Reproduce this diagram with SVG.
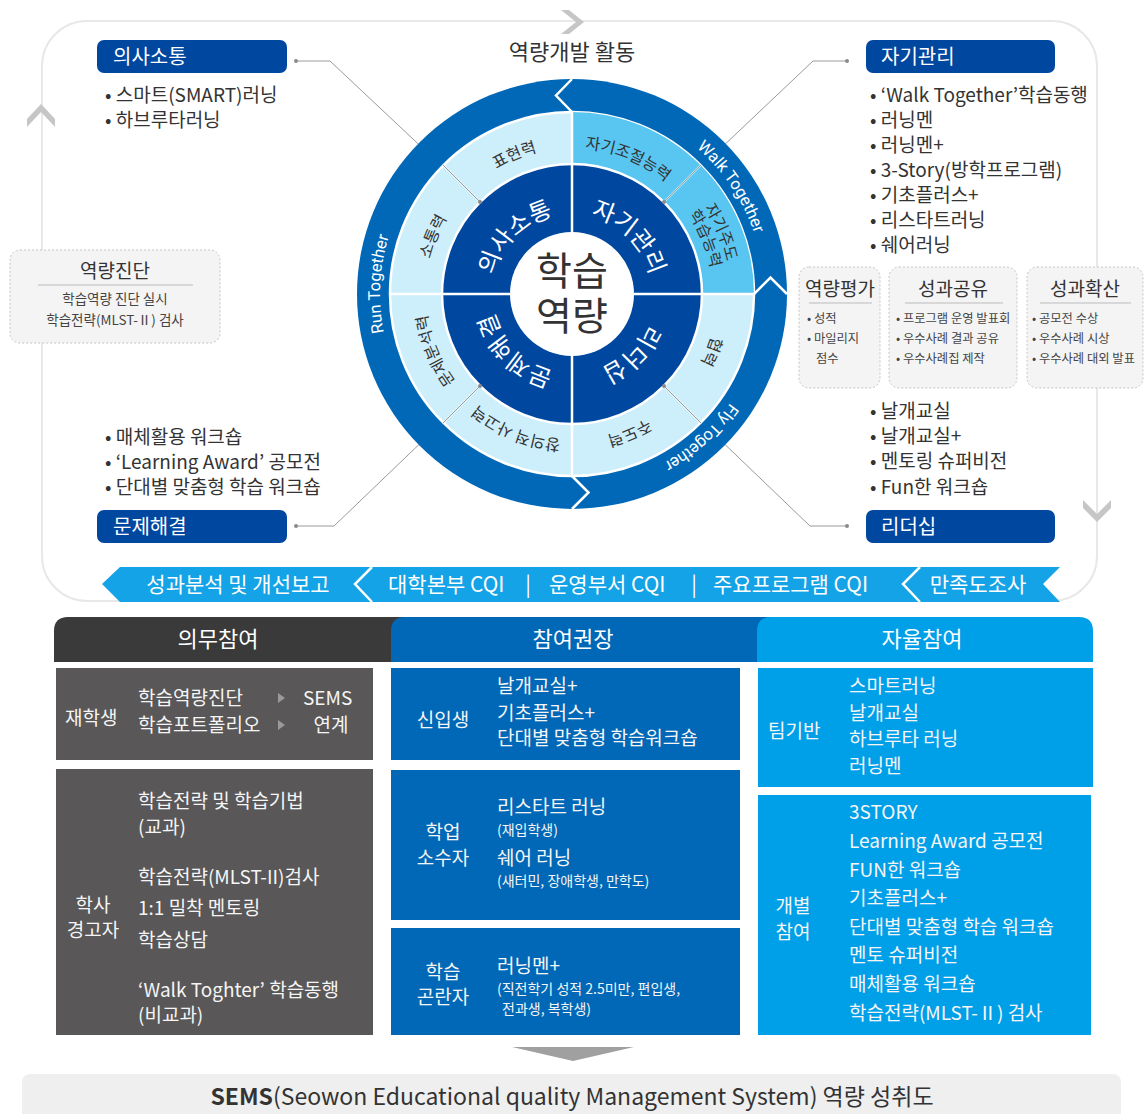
<svg xmlns="http://www.w3.org/2000/svg" width="1144" height="1114" viewBox="0 0 1144 1114">
<style>
text{font-family:"Noto Sans CJK KR","Noto Sans",sans-serif;}
.t{fill:#333;}
.w{fill:#fff;}
.b19{font-size:19px;}
.nb{fill:#0047a0;}
.dash{fill:#f4f4f4;stroke:#c4c4c4;stroke-width:1;stroke-dasharray:2 2;}
.chev{fill:#c6c6c6;}
.conn{fill:none;stroke:#9a9a9a;stroke-width:1;}
.dot{fill:#8a8a8a;}
.wl{fill:none;stroke:#fff;stroke-width:2.5;}
.wl2{fill:none;stroke:#fff;stroke-width:1.6;}
.ring{fill:#fff;font-size:16.5px;font-family:Roboto,"Noto Sans",sans-serif;}
.mid{fill:#333;font-size:16px;}
.inn{fill:#fff;font-size:24px;}
.sm{fill:#444;font-size:12.3px;}
.gray{fill:#595757;}
.blue{fill:#0068b7;}
.lblue{fill:#00a0e9;}
.cell{fill:#f5f5f5;font-size:19px;}
.small{fill:#f5f5f5;font-size:14px;}
</style>
<defs>
<path id="a192" d="M380,294 A192,192 0 0 1 764,294"/>
<path id="a146" d="M426,294 A146,146 0 0 1 718,294"/>
<path id="a158" d="M414,294 A158,158 0 0 1 730,294"/>
<path id="a141" d="M431,294 A141,141 0 0 1 713,294"/>
<path id="a80" d="M492,294 A80,80 0 0 1 652,294"/>
</defs>

<g id="frame">
<rect x="42" y="21" width="1055" height="580" rx="45" fill="#fff" stroke="#e8e8e8" stroke-width="2"/>
<polygon class="chev" points="561,10 569,10 584,22 569,34 561,34 576,22"/>
<polygon class="chev" points="27,119 41,104 55,119 55,127 41,112 27,127"/>
<polygon class="chev" points="1083,500 1097,514 1111,500 1111,508 1097,522 1083,508"/>
<text x="572" y="60" text-anchor="middle" class="t" font-size="22">역량개발 활동</text>
</g>

<g id="connectors">
<polyline class="conn" points="296,61 330,61 480,202"/>
<polyline class="conn" points="847,61 813,61 664,202"/>
<polyline class="conn" points="296,526 334,526 480,386"/>
<polyline class="conn" points="847,526 810,526 664,386"/>
<circle class="dot" cx="296" cy="61" r="2"/>
<circle class="dot" cx="847" cy="61" r="2"/>
<circle class="dot" cx="296" cy="526" r="2"/>
<circle class="dot" cx="847" cy="526" r="2"/>
</g>

<g id="wheel">
<circle cx="572" cy="294" r="215" fill="#0068b7"/>
<circle cx="572" cy="294" r="182" fill="#cdeefb" stroke="#fff" stroke-width="2.5"/>
<path d="M572,112 A182,182 0 0 1 754,294 L702,294 A130,130 0 0 0 572,164 Z" fill="#58c6f1"/>
<circle cx="572" cy="294" r="130" fill="#0047a0" stroke="#fff" stroke-width="2.5"/>
<circle cx="572" cy="294" r="62" fill="#fff"/>
<line class="wl" x1="572" y1="232" x2="572" y2="112"/>
<line class="wl" x1="572" y1="356" x2="572" y2="476"/>
<line class="wl" x1="510" y1="294" x2="390" y2="294"/>
<line class="wl" x1="634" y1="294" x2="754" y2="294"/>
<line class="wl2" x1="480" y1="202" x2="443" y2="165"/>
<line class="wl2" x1="664" y1="202" x2="701" y2="165"/>
<line class="wl2" x1="480" y1="386" x2="443" y2="423"/>
<line class="wl2" x1="664" y1="386" x2="701" y2="423"/>
<polyline class="wl" points="572,79 556,95.5 572,112"/>
<polyline class="wl" points="754,294 770.5,277.5 787,294"/>
<polyline class="wl" points="572,476 588.5,492.5 572,509"/>
<polyline class="conn" points="480,202 443,165"/>
<polyline class="conn" points="664,202 701,165"/>
<polyline class="conn" points="480,386 443,423"/>
<polyline class="conn" points="664,386 701,423"/>
<circle class="dot" cx="480" cy="202" r="2"/>
<circle class="dot" cx="664" cy="202" r="2"/>
<circle class="dot" cx="480" cy="386" r="2"/>
<circle class="dot" cx="664" cy="386" r="2"/>

<text class="ring" transform="rotate(56 572 294)"><textPath href="#a192" startOffset="50%" text-anchor="middle">Walk Together</textPath></text>
<text class="ring" transform="rotate(138 572 294)"><textPath href="#a192" startOffset="50%" text-anchor="middle">Fly Together</textPath></text>
<text class="ring" transform="rotate(273 572 294)"><textPath href="#a192" startOffset="50%" text-anchor="middle">Run Together</textPath></text>

<text class="mid" transform="rotate(-22.5 572 294)"><textPath href="#a146" startOffset="50%" text-anchor="middle">표현력</textPath></text>
<text class="mid" transform="rotate(-67.5 572 294)"><textPath href="#a146" startOffset="50%" text-anchor="middle">소통력</textPath></text>
<text class="mid" transform="rotate(22.5 572 294)"><textPath href="#a146" startOffset="50%" text-anchor="middle">자기조절능력</textPath></text>
<text class="mid" transform="rotate(67.5 572 294)"><textPath href="#a158" startOffset="50%" text-anchor="middle">자기주도</textPath></text>
<text class="mid" transform="rotate(67.5 572 294)"><textPath href="#a141" startOffset="50%" text-anchor="middle">학습능력</textPath></text>
<text class="mid" transform="rotate(112.5 572 294)"><textPath href="#a146" startOffset="50%" text-anchor="middle">협력</textPath></text>
<text class="mid" transform="rotate(157.5 572 294)"><textPath href="#a146" startOffset="50%" text-anchor="middle">주도력</textPath></text>
<text class="mid" transform="rotate(202.5 572 294)"><textPath href="#a146" startOffset="50%" text-anchor="middle">창의적 사고력</textPath></text>
<text class="mid" transform="rotate(247.5 572 294)"><textPath href="#a146" startOffset="50%" text-anchor="middle">문제분석력</textPath></text>

<text class="inn" transform="rotate(-45 572 294)"><textPath href="#a80" startOffset="50%" text-anchor="middle">의사소통</textPath></text>
<text class="inn" transform="rotate(45 572 294)"><textPath href="#a80" startOffset="50%" text-anchor="middle">자기관리</textPath></text>
<text class="inn" transform="rotate(135 572 294)"><textPath href="#a80" startOffset="50%" text-anchor="middle">리더십</textPath></text>
<text class="inn" transform="rotate(225 572 294)"><textPath href="#a80" startOffset="50%" text-anchor="middle">문제해결</textPath></text>

<text text-anchor="middle" font-size="39" fill="#333"><tspan x="572" y="285">학습</tspan><tspan x="572" y="330">역량</tspan></text>
</g>

<g id="node-communication">
<rect class="nb" x="97" y="40" width="190" height="33" rx="7"/>
<text x="113" y="64" class="w" font-size="20">의사소통</text>
<text class="t b19" x="105" y="102">• 스마트(SMART)러닝</text>
<text class="t b19" x="105" y="127">• 하브루타러닝</text>
</g>
<g id="node-selfmanagement">
<rect class="nb" x="866" y="40" width="189" height="33" rx="7"/>
<text x="881" y="64" class="w" font-size="20">자기관리</text>
<text class="t b19" x="870" y="102">• ‘Walk Together’학습동행</text>
<text class="t b19" x="870" y="127">• 러닝멘</text>
<text class="t b19" x="870" y="152">• 러닝멘+</text>
<text class="t b19" x="870" y="177">• 3-Story(방학프로그램)</text>
<text class="t b19" x="870" y="202">• 기초플러스+</text>
<text class="t b19" x="870" y="227">• 리스타트러닝</text>
<text class="t b19" x="870" y="252">• 쉐어러닝</text>
</g>
<g id="node-problemsolving">
<text class="t b19" x="105" y="444">• 매체활용 워크숍</text>
<text class="t b19" x="105" y="469">• ‘Learning Award’ 공모전</text>
<text class="t b19" x="105" y="494">• 단대별 맞춤형 학습 워크숍</text>
<rect class="nb" x="97" y="510" width="190" height="33" rx="7"/>
<text x="113" y="534" class="w" font-size="20">문제해결</text>
</g>
<g id="node-leadership">
<text class="t b19" x="870" y="418">• 날개교실</text>
<text class="t b19" x="870" y="443">• 날개교실+</text>
<text class="t b19" x="870" y="468">• 멘토링 슈퍼비전</text>
<text class="t b19" x="870" y="494">• Fun한 워크숍</text>
<rect class="nb" x="866" y="510" width="189" height="33" rx="7"/>
<text x="881" y="534" class="w" font-size="20">리더십</text>
</g>

<g id="node-diagnosis">
<rect class="dash" x="10" y="250" width="210" height="93" rx="10"/>
<text x="115" y="278" text-anchor="middle" class="t" font-size="19">역량진단</text>
<line x1="38" y1="285" x2="193" y2="285" stroke="#bbb" stroke-width="1"/>
<text x="115" y="304" text-anchor="middle" fill="#444" font-size="13.5">학습역량 진단 실시</text>
<text x="115" y="325" text-anchor="middle" fill="#444" font-size="13.5">학습전략(MLST-Ⅱ) 검사</text>
</g>
<g id="node-evaluation">
<rect class="dash" x="799" y="267" width="81" height="121" rx="10"/>
<text x="840" y="296" text-anchor="middle" class="t" font-size="19">역량평가</text>
<line x1="809" y1="303" x2="872" y2="303" stroke="#bbb" stroke-width="1"/>
<text class="sm" x="807" y="323">• 성적</text>
<text class="sm" x="807" y="343">• 마일리지</text>
<text class="sm" x="816" y="363">점수</text>
</g>
<g id="node-sharing">
<rect class="dash" x="889" y="267" width="128" height="121" rx="10"/>
<text x="953" y="296" text-anchor="middle" class="t" font-size="19">성과공유</text>
<line x1="905" y1="303" x2="1003" y2="303" stroke="#bbb" stroke-width="1"/>
<text class="sm" x="896" y="323">• 프로그램 운영 발표회</text>
<text class="sm" x="896" y="343">• 우수사례 결과 공유</text>
<text class="sm" x="896" y="363">• 우수사례집 제작</text>
</g>
<g id="node-spread">
<rect class="dash" x="1027" y="267" width="116" height="121" rx="10"/>
<text x="1085" y="296" text-anchor="middle" class="t" font-size="19">성과확산</text>
<line x1="1040" y1="303" x2="1131" y2="303" stroke="#bbb" stroke-width="1"/>
<text class="sm" x="1032" y="323">• 공모전 수상</text>
<text class="sm" x="1032" y="343">• 우수사례 시상</text>
<text class="sm" x="1032" y="363">• 우수사례 대외 발표</text>
</g>

<g id="banner">
<polygon points="102,584 120,567 1060,567 1043,584 1060,602 120,602" fill="#14a3e6"/>
<polyline class="wl" points="372,567 355,584 372,602"/>
<polyline class="wl" points="920,567 903,584 920,602"/>
<text x="238" y="592" text-anchor="middle" class="w" font-size="21">성과분석 및 개선보고</text>
<text x="388" y="592" class="w" font-size="21">대학본부 CQI</text>
<text x="528" y="592" text-anchor="middle" class="w" font-size="21">|</text>
<text x="549" y="592" class="w" font-size="21">운영부서 CQI</text>
<text x="694" y="592" text-anchor="middle" class="w" font-size="21">|</text>
<text x="713" y="592" class="w" font-size="21">주요프로그램 CQI</text>
<text x="978" y="592" text-anchor="middle" class="w" font-size="21">만족도조사</text>
</g>

<g id="table-headers">
<path d="M54,662 V631 Q54,617 68,617 H420 V662 Z" fill="#3a3a3a"/>
<path d="M391,662 V631 Q391,617 405,617 H775 V662 Z" fill="#0068b7"/>
<path d="M757,662 V631 Q757,617 771,617 H1079 Q1093,617 1093,631 V662 Z" fill="#00a0e9"/>
<text x="218" y="647" text-anchor="middle" class="w" font-size="22">의무참여</text>
<text x="573" y="647" text-anchor="middle" class="w" font-size="22">참여권장</text>
<text x="922" y="647" text-anchor="middle" class="w" font-size="22">자율참여</text>
</g>

<g id="node-enrolled">
<rect class="gray" x="56" y="668" width="317" height="92"/>
<text class="cell" x="65" y="725">재학생</text>
<text class="cell" x="138" y="705">학습역량진단</text>
<text class="cell" x="138" y="732">학습포트폴리오</text>
<polygon points="278,693 285,698 278,703" fill="#9a9a9a"/>
<polygon points="278,720 285,725 278,730" fill="#9a9a9a"/>
<text class="cell" x="303" y="705">SEMS</text>
<text class="cell" x="331" y="732" text-anchor="middle">연계</text>
</g>
<g id="node-warning">
<rect class="gray" x="56" y="769" width="317" height="266"/>
<text class="cell" x="93" y="912" text-anchor="middle">학사</text>
<text class="cell" x="93" y="937" text-anchor="middle">경고자</text>
<text class="cell" x="138" y="808">학습전략 및 학습기법</text>
<text class="cell" x="138" y="834">(교과)</text>
<text class="cell" x="138" y="884">학습전략(MLST-II)검사</text>
<text class="cell" x="138" y="915">1:1 밀착 멘토링</text>
<text class="cell" x="138" y="947">학습상담</text>
<text class="cell" x="138" y="997">‘Walk Toghter’ 학습동행</text>
<text class="cell" x="138" y="1022">(비교과)</text>
</g>

<g id="node-freshman">
<rect class="blue" x="391" y="668" width="349" height="92"/>
<text class="cell" x="443" y="727" text-anchor="middle">신입생</text>
<text class="cell" x="497" y="693">날개교실+</text>
<text class="cell" x="497" y="720">기초플러스+</text>
<text class="cell" x="497" y="745">단대별 맞춤형 학습워크숍</text>
</g>
<g id="node-minority">
<rect class="blue" x="391" y="770" width="349" height="150"/>
<text class="cell" x="443" y="839" text-anchor="middle">학업</text>
<text class="cell" x="443" y="865" text-anchor="middle">소수자</text>
<text class="cell" x="497" y="814">리스타트 러닝</text>
<text class="small" x="497" y="835">(재입학생)</text>
<text class="cell" x="497" y="865">쉐어 러닝</text>
<text class="small" x="497" y="886">(새터민, 장애학생, 만학도)</text>
</g>
<g id="node-difficulty">
<rect class="blue" x="391" y="928" width="349" height="107"/>
<text class="cell" x="443" y="979" text-anchor="middle">학습</text>
<text class="cell" x="443" y="1004" text-anchor="middle">곤란자</text>
<text class="cell" x="497" y="973">러닝멘+</text>
<text class="small" x="497" y="994">(직전학기 성적 2.5미만, 편입생,</text>
<text class="small" x="502" y="1014">전과생, 복학생)</text>
</g>

<g id="node-team">
<rect class="lblue" x="758" y="668" width="335" height="119"/>
<text class="cell" x="768" y="738">팀기반</text>
<text class="cell" x="849" y="693">스마트러닝</text>
<text class="cell" x="849" y="720">날개교실</text>
<text class="cell" x="849" y="746">하브루타 러닝</text>
<text class="cell" x="849" y="773">러닝멘</text>
</g>
<g id="node-individual">
<rect class="lblue" x="758" y="795" width="333" height="240"/>
<text class="cell" x="793" y="913" text-anchor="middle">개별</text>
<text class="cell" x="793" y="939" text-anchor="middle">참여</text>
<text class="cell" x="849" y="819">3STORY</text>
<text class="cell" x="849" y="848">Learning Award 공모전</text>
<text class="cell" x="849" y="877">FUN한 워크숍</text>
<text class="cell" x="849" y="905">기초플러스+</text>
<text class="cell" x="849" y="934">단대별 맞춤형 학습 워크숍</text>
<text class="cell" x="849" y="962">멘토 슈퍼비전</text>
<text class="cell" x="849" y="991">매체활용 워크숍</text>
<text class="cell" x="849" y="1020">학습전략(MLST-Ⅱ) 검사</text>
</g>

<g id="node-sems">
<polygon points="512,1047 634,1047 573,1061" fill="#a0a0a0"/>
<rect x="22" y="1074" width="1099" height="50" rx="8" fill="#efefef"/>
<text x="572" y="1105" text-anchor="middle" font-size="23" fill="#333"><tspan font-weight="bold">SEMS</tspan>(Seowon Educational quality Management System) 역량 성취도</text>
</g>
</svg>
